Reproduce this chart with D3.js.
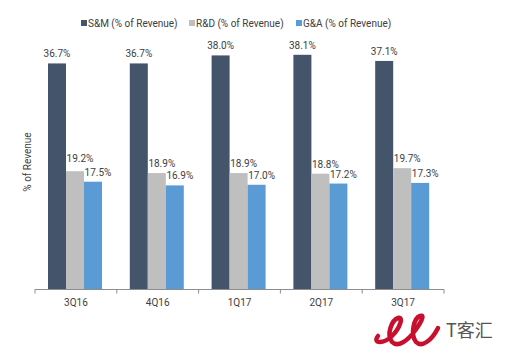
<!DOCTYPE html>
<html><head><meta charset="utf-8">
<script src="https://cdn.jsdelivr.net/npm/d3@7"></script>
<style>body{margin:0;background:#fff}svg{display:block;font-family:Roboto,"Noto Sans",sans-serif}</style>
</head><body><svg id="c" width="513" height="359"></svg>
<script>
const categories = ["3Q16","4Q16","1Q17","2Q17","3Q17"];
const seriesNames = ["S&M (% of Revenue)","R&D (% of Revenue)","G&A (% of Revenue)"];
const smValues = [36.7,36.7,38.0,38.1,37.1];
const rdValues = [19.2,18.9,18.9,18.8,19.7];
const gaValues = [17.5,16.9,17.0,17.2,17.3];
const colors = ["#44546A","#BFBFBF","#5B9BD5"];
const allValues = [smValues, rdValues, gaValues];

const svg = d3.select("#c");
const baseY = 289.5;
const x0 = d3.scaleBand().domain(categories).range([35, 444]).padding(0);
const x1 = d3.scaleBand().domain(d3.range(3)).range([13, 67]).padding(0);
const y = d3.scaleLinear().domain([0, 40]).range([baseY, 43.1]);

// bars
categories.forEach((c, i) => {
  const g = svg.append("g").attr("transform", `translate(${x0(c)},0)`);
  allValues.forEach((vals, s) => {
    g.append("rect").attr("x", x1(s)).attr("y", y(vals[i]))
      .attr("width", x1.bandwidth()).attr("height", baseY - y(vals[i]))
      .attr("fill", colors[s]);
    g.append("text").attr("x", x1(s) + x1.bandwidth()/2 + (s === 0 ? 0 : 5))
      .attr("y", y(vals[i]) - (i === 0 && s === 1 ? 9 : 6))
      .attr("text-anchor", "middle").attr("font-size", 10).attr("fill", "#404040")
      .text(vals[i].toFixed(1) + "%");
  });
});

// axis
const axis = svg.append("g").attr("transform", `translate(0,${baseY})`);
axis.append("line").attr("x1", 35).attr("x2", 444).attr("stroke", "#8c8c8c");
const bounds = categories.map(c => x0(c)).concat([x0.range()[1]]);
axis.selectAll("line.t").data(bounds).enter().append("line").attr("class","t")
  .attr("x1", d => d).attr("x2", d => d).attr("y1", 0).attr("y2", 4).attr("stroke", "#8c8c8c");
axis.selectAll("text").data(categories).enter().append("text")
  .attr("x", d => x0(d) + x0.bandwidth()/2).attr("y", 16)
  .attr("text-anchor","middle").attr("font-size", 10).attr("fill","#404040").text(d => d);

// y title
svg.append("text").attr("transform","translate(31,162) rotate(-90)")
  .attr("text-anchor","middle").attr("font-size",10).attr("fill","#404040").text("% of Revenue");

// legend
const legendX = [81, 189, 296];
seriesNames.forEach((n, s) => {
  svg.append("rect").attr("x", legendX[s]).attr("y", 20).attr("width", 6).attr("height", 6).attr("fill", colors[s]);
  svg.append("text").attr("x", legendX[s] + 7).attr("y", 26.5).attr("font-size", 10).attr("fill","#404040").text(n);
});

// watermark
const wm = svg.append("g");
wm.append("path").attr("d","M378,336 C372,344 384,344 392,336 C400,328 404,316 398,318 C392,320 386,334 392,342 C398,348 408,340 414,332 C420,324 426,314 420,316 C414,318 410,334 416,342 C422,348 432,340 438,328")
  .attr("fill","none").attr("stroke","#c8102e").attr("stroke-width",4.5).attr("stroke-linecap","round");
wm.append("text").attr("x", 446).attr("y", 337).attr("font-size", 18).attr("fill", "#555")
  .attr("font-family","'Noto Sans CJK SC',sans-serif").text("T客汇");
</script></body></html>
